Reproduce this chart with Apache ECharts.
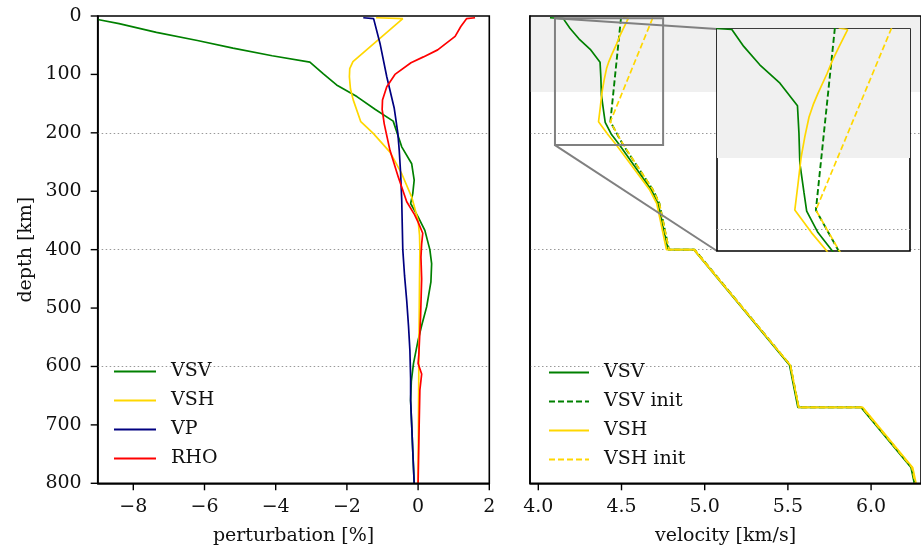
<!DOCTYPE html>
<html>
<head>
<meta charset="utf-8">
<script src="https://cdn.jsdelivr.net/npm/echarts@6/dist/echarts.min.js"></script>
<style>
  html, body { margin: 0; padding: 0; background: #fff; }
  #chart { width: 921px; height: 552px; }
</style>
</head>
<body>
<div id="chart"></div>
<script>
// perturbation [%] vs depth [km]
const pertVSV = [[-9.0,6],[-8.4,13],[-7.35,28],[-6.2,42],[-5.2,55],[-4.1,68],[-3.04,79],[-2.66,99],[-2.29,118],[-1.72,138],[-1.2,160],[-0.70,180],[-0.46,224],[-0.18,253],[-0.11,281],[-0.15,304],[-0.21,321],[0.0,344],[0.19,367],[0.33,400],[0.38,424],[0.36,455],[0.24,498],[0.1,530],[0.0,555],[-0.13,595],[-0.19,625],[-0.21,658],[-0.18,700],[-0.15,744],[-0.11,800]];
const pertVSH = [[-1.18,3],[-0.43,4.5],[-1.83,78],[-1.92,90],[-1.93,104],[-1.9,125],[-1.82,144],[-1.61,181],[-1.26,201],[-0.79,233],[-0.46,270],[-0.18,310],[0.0,350],[0.04,375],[0.05,400],[0.04,450],[0.03,520],[0.02,600],[0.01,700],[0.0,800]];
const pertVP = [[-1.54,3],[-1.25,4.5],[-1.07,47],[-0.88,104],[-0.67,158],[-0.57,200],[-0.53,230],[-0.49,270],[-0.46,315],[-0.43,400],[-0.38,445],[-0.32,487],[-0.27,530],[-0.23,573],[-0.21,620],[-0.21,658],[-0.18,700],[-0.15,744],[-0.11,800]];
const pertRHO = [[1.60,3],[1.36,4.5],[1.2,18],[1.04,35],[0.55,58],[0.15,70],[-0.2,80],[-0.65,100],[-0.88,121],[-1.0,144],[-1.01,160],[-0.95,185],[-0.79,230],[-0.56,275],[-0.32,318],[-0.1,340],[0.0,353],[0.13,372],[0.1,390],[0.08,413],[0.1,450],[0.07,515],[0.02,580],[0.0,595],[0.1,613],[0.05,640],[0.03,700],[0.0,800]];

// velocity [km/s] vs depth [km]
const velVSV = [[4.07,3],[4.15,4.5],[4.19,21],[4.244,39],[4.312,57],[4.371,79],[4.376,106],[4.379,135],[4.393,164],[4.402,182],[4.44,203],[4.486,220],[4.68,298],[4.72,321],[4.78,400],[4.935,400],[5.51,598],[5.56,670],[5.94,670],[6.24,773],[6.26,800]];
const velVSVinit = [[4.497,3],[4.433,181],[4.508,220],[4.69,298],[4.728,321],[4.785,400],[4.94,400],[5.515,598],[5.565,670],[5.945,670],[6.245,773],[6.265,800]];
const velVSH = [[4.51,3],[4.54,4.5],[4.51,22],[4.49,34],[4.47,48],[4.44,67],[4.424,78],[4.41,90],[4.396,109],[4.383,130],[4.373,155],[4.362,181],[4.418,203],[4.467,220],[4.67,298],[4.712,321],[4.77,400],[4.935,400],[5.515,598],[5.565,670],[5.95,670],[6.25,773],[6.27,800]];
const velVSHinit = [[4.688,3],[4.433,181],[4.51,220],[4.69,298],[4.728,321],[4.785,400],[4.94,400],[5.515,598],[5.565,670],[5.945,670],[6.245,773],[6.265,800]];

const depthTicks = [0, 100, 200, 300, 400, 500, 600, 700, 800];
const pertTicks = [-8, -6, -4, -2, 0, 2];
const velTicks = [4.0, 4.5, 5.0, 5.5, 6.0];
const gridDepths = [200, 400, 600];
const shadeDepths = [0, 130];
const insetX = [4.10, 4.75];
const insetY = [4, 221];

const FONT = 'DejaVu Serif';
const GREEN = '#008000', GOLD = '#ffd700', NAVY = '#000080', RED = '#ff0000';
const TICK_LEN = 7;

const txt = { fontFamily: FONT, fontSize: 19, color: '#111' };

function line(name, data, color, xi, opts) {
  opts = opts || {};
  return Object.assign({
    name: name, type: 'line', data: data,
    xAxisIndex: xi, yAxisIndex: xi,
    symbol: 'none', showSymbol: false, animation: false, silent: true,
    lineStyle: { color: color, width: opts.width || 1.7, type: opts.type || 'solid' },
    itemStyle: { color: color },
    z: opts.z || 2
  }, opts.extra || {});
}

const dotted = (z) => ({
  silent: true, symbol: ['none', 'none'], label: { show: false }, z: z, animation: false,
  lineStyle: { type: [1.5, 2.5], color: '#999', width: 1 },
  data: gridDepths.map(d => ({ yAxis: d }))
});
const shade = (z) => ({
  silent: true, z: z, animation: false,
  itemStyle: { color: '#f0f0f0' },
  data: [[{ yAxis: shadeDepths[0] }, { yAxis: shadeDepths[1] }]]
});

const minusFmt = v => (v < 0 ? '\u2212' + Math.abs(v) : String(v));
const spine = { show: true, onZero: false, lineStyle: { color: '#000', width: 1.6 } };

const legendBase = {
  orient: 'vertical', padding: 0, itemHeight: 14, itemGap: 10, selectedMode: false,
  itemStyle: { opacity: 0 },
  textStyle: Object.assign({ lineHeight: 18, padding: [0, 0, 0, 10] }, txt)
};

const option = {
  animation: false,
  grid: [
    { left: 97.7, top: 16, width: 391.6, height: 467.3, show: true, backgroundColor: 'transparent', borderColor: '#000', borderWidth: 1.6, z: 3 },
    { left: 530, top: 16, width: 392, height: 467.3, show: true, backgroundColor: 'transparent', borderColor: '#000', borderWidth: 1.6, z: 3 },
    { left: 717, top: 29, width: 193, height: 222, show: true, backgroundColor: '#fff', borderColor: '#000', borderWidth: 1.6, z: 10 }
  ],
  xAxis: [
    { gridIndex: 0, type: 'value', min: -9, max: 2, position: 'bottom',
      axisLine: spine, splitLine: { show: false }, axisTick: { show: false },
      axisLabel: Object.assign({ customValues: pertTicks, margin: 14, formatter: minusFmt }, txt),
      name: 'perturbation [%]', nameLocation: 'middle', nameGap: 43, nameTextStyle: txt },
    { gridIndex: 1, type: 'value', min: 3.95, max: 6.3, position: 'bottom',
      axisLine: spine, splitLine: { show: false }, axisTick: { show: false },
      axisLabel: Object.assign({ customValues: velTicks, margin: 14, formatter: v => v.toFixed(1) }, txt),
      name: 'velocity [km/s]', nameLocation: 'middle', nameGap: 43, nameTextStyle: txt },
    { gridIndex: 2, type: 'value', min: insetX[0], max: insetX[1], show: false,
      axisLine: { onZero: false }, splitLine: { show: false } }
  ],
  yAxis: [
    { gridIndex: 0, type: 'value', min: 0, max: 800, interval: 100, inverse: true, position: 'left',
      axisLine: spine, splitLine: { show: false }, axisTick: { show: false },
      axisLabel: Object.assign({ customValues: depthTicks, margin: 16 }, txt),
      name: 'depth [km]', nameLocation: 'middle', nameGap: 62, nameTextStyle: txt },
    { gridIndex: 1, type: 'value', min: 0, max: 800, interval: 100, inverse: true, position: 'left',
      axisLine: spine, axisTick: { show: false }, axisLabel: { show: false }, splitLine: { show: false } },
    { gridIndex: 2, type: 'value', min: insetY[0], max: insetY[1], inverse: true, show: false,
      axisLine: { onZero: false }, splitLine: { show: false } }
  ],
  legend: [
    Object.assign({ data: ['VSV', 'VSH', 'VP', 'RHO'], left: 113, top: 362, itemWidth: 42 }, legendBase),
    Object.assign({ data: ['VSV', 'VSV init', 'VSH', 'VSH init'], left: 548, top: 363, itemWidth: 40 }, legendBase)
  ],
  series: [
    line('VSV', pertVSV, GREEN, 0, { extra: { markLine: dotted(1) } }),
    line('VSH', pertVSH, GOLD, 0),
    line('VP', pertVP, NAVY, 0),
    line('RHO', pertRHO, RED, 0),

    line('VSV', velVSV, GREEN, 1, { extra: { markLine: dotted(1), markArea: shade(1) } }),
    line('VSV init', velVSVinit, GREEN, 1, { type: [6, 3], width: 1.9 }),
    line('VSH', velVSH, GOLD, 1),
    line('VSH init', velVSHinit, GOLD, 1, { type: [6, 3] }),

    line('VSV', velVSV, GREEN, 2, { z: 12, extra: { markLine: dotted(11), markArea: shade(11) } }),
    line('VSV init', velVSVinit, GREEN, 2, { type: [6, 3], width: 1.9, z: 12 }),
    line('VSH', velVSH, GOLD, 2, { z: 12 }),
    line('VSH init', velVSHinit, GOLD, 2, { type: [6, 3], z: 12 })
  ]
};

const chart = echarts.init(document.getElementById('chart'), null, { renderer: 'canvas' });
chart.setOption(option);

// tick marks, placed through the axes' own scales
const tickLine = { stroke: '#000', lineWidth: 1.4 };
const graphics = [];
depthTicks.forEach(d => {
  const p = chart.convertToPixel({ gridIndex: 0 }, [-9, d]);
  graphics.push({ type: 'line', z: 6, silent: true, shape: { x1: p[0] - TICK_LEN, y1: p[1], x2: p[0], y2: p[1] }, style: tickLine });
});
pertTicks.forEach(v => {
  const p = chart.convertToPixel({ gridIndex: 0 }, [v, 800]);
  graphics.push({ type: 'line', z: 6, silent: true, shape: { x1: p[0], y1: p[1], x2: p[0], y2: p[1] + TICK_LEN }, style: tickLine });
});
velTicks.forEach(v => {
  const p = chart.convertToPixel({ gridIndex: 1 }, [v, 800]);
  graphics.push({ type: 'line', z: 6, silent: true, shape: { x1: p[0], y1: p[1], x2: p[0], y2: p[1] + TICK_LEN }, style: tickLine });
});

// inset indicator box and connector lines
const tl = chart.convertToPixel({ gridIndex: 1 }, [insetX[0], insetY[0]]);
const br = chart.convertToPixel({ gridIndex: 1 }, [insetX[1], insetY[1]]);
const itl = chart.convertToPixel({ gridIndex: 2 }, [insetX[0], insetY[0]]);
const ibl = chart.convertToPixel({ gridIndex: 2 }, [insetX[0], insetY[1]]);
const grey = { stroke: '#808080', lineWidth: 2, fill: null };
graphics.push(
  { type: 'rect', z: 5, silent: true, shape: { x: tl[0], y: tl[1], width: br[0] - tl[0], height: br[1] - tl[1] }, style: grey },
  { type: 'line', z: 5, silent: true, shape: { x1: tl[0], y1: tl[1], x2: itl[0], y2: itl[1] }, style: grey },
  { type: 'line', z: 5, silent: true, shape: { x1: tl[0], y1: br[1], x2: ibl[0], y2: ibl[1] }, style: grey }
);
chart.setOption({ graphic: graphics });
</script>
</body>
</html>
